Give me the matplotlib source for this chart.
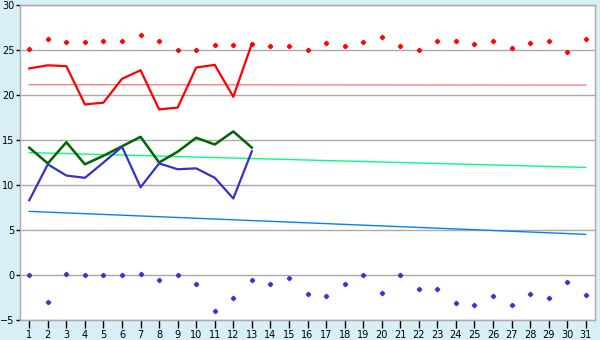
import matplotlib.pyplot as plt
import numpy as np

# Данные
days = np.arange(1, 32)
red_points = [25.1, 26.2, 25.85, 25.85, 26.05, 25.95, 26.65, 25.95, 24.95, 24.95,
              25.55, 25.55, 25.7, 25.4, 25.4, 24.95, 25.75, 25.5, 25.85, 26.4,
              25.5, 25.05, 25.95, 25.95, 25.65, 25.95, 25.2, 25.75, 25.95, 24.75, 26.2]
red_line = [22.95, 23.3, 23.2, 18.95, 19.15, 21.8, 22.75, 18.4, 18.6, 23.05, 23.35, 19.8, 25.7]
green_line = [14.15, 12.4, 14.75, 12.3, 13.25, 14.3, 15.35, 12.5, 13.7, 15.25, 14.5, 15.95, 14.15]
blue_line = [8.3, 12.3, 11.05, 10.8, 12.5, 14.25, 9.75, 12.4, 11.75, 11.85, 10.8, 8.5, 13.75]
blue_points = [0.0, -3.05, 0.1, 0.0, 0.0, 0.0, 0.1, -0.6, 0.0, -0.95,
               -4.05, -2.5, -0.5, -1.05, -0.35, -2.15, -2.35, -1.05, 0.0, -2.05,
               0.0, -1.5, -1.6, -3.15, -3.35, -2.35, -3.35, -2.15, -2.6, -0.8, -2.25]
red_trend = [21.15, 21.1]
green_trend = [13.6, 11.95]
blue_trend = [7.07, 4.52]
trend_days = [1, 31]

bg = '#d9eff6'
fig = plt.figure(figsize=(6, 3.4), dpi=100, facecolor=bg)
ax = fig.add_axes([20/600, 20/340, 575/600, 315/340])
ax.set_facecolor('white')

# Сетка
for y in range(-5, 31, 5):
    ax.axhline(y, color='#aaaaaa', lw=1, zorder=1)

# Тренды
ax.plot(trend_days, red_trend, color='#ff8080', lw=1, zorder=2)
ax.plot(trend_days, green_trend, color='#00ff80', lw=1, zorder=2)
ax.plot(trend_days, blue_trend, color='#0080ff', lw=1, zorder=2)

# Линии
n = len(red_line)
ax.plot(days[:n], red_line, color='#ff0000', lw=1.6, zorder=3)
ax.plot(days[:n], green_line, color='#006400', lw=1.8, zorder=3)
ax.plot(days[:n], blue_line, color='#3333cc', lw=1.6, zorder=3)

# Точки
ax.plot(days, red_points, 'P', color='#ff0000', ms=3.2, mew=0.6, zorder=4)
ax.plot(days, blue_points, 'P', color='#3333cc', ms=3.2, mew=0.6, zorder=4)

# Настройки
ax.set_xlim(0.5, 31.5)
ax.set_ylim(-5, 30)
ax.set_xticks(days)
ax.set_yticks(range(-5, 31, 5))
ax.tick_params(axis='x', direction='out', length=6, width=1, color='black',
               labelsize=7, pad=1)
ax.tick_params(axis='y', direction='out', length=3, width=1, color='black',
               labelsize=7, pad=1)
for s in ax.spines.values():
    s.set_color('#aaaaaa')
    s.set_linewidth(1)

plt.savefig('out.png', dpi=100, facecolor=bg)
